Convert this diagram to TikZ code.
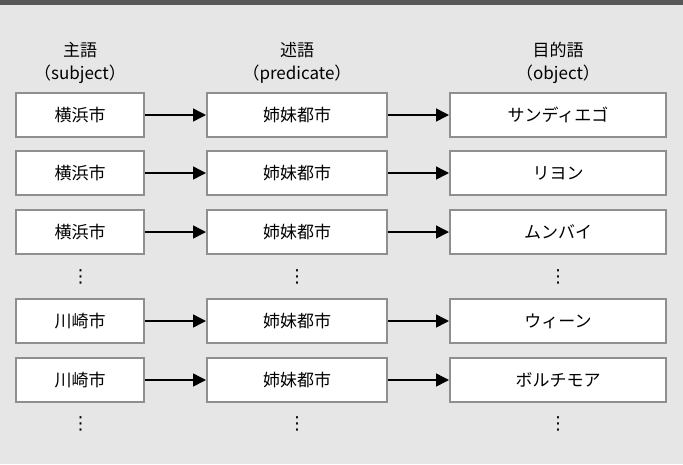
\documentclass[tikz,border=0pt]{standalone}
\usepackage{fontspec}
\setmainfont{Noto Sans CJK JP}
\newfontfamily\dejavu{DejaVu Sans}
\usetikzlibrary{arrows.meta}
\definecolor{bg}{HTML}{E6E6E6}
\definecolor{topbar}{HTML}{58575A}
\definecolor{boxline}{HTML}{8F8F8F}
\begin{document}
\begin{tikzpicture}[x=1pt,y=-1pt,
  cell/.style={draw=boxline, line width=2pt, fill=white, minimum height=44pt,
    inner sep=0pt, font=\fontsize{17}{20}\selectfont},
  cola/.style={cell, minimum width=128pt},
  colb/.style={cell, minimum width=180pt},
  colc/.style={cell, minimum width=216pt},
  link/.style={-{Triangle[length=13pt,width=13pt]}, line width=1.5pt, black},
  head/.style={align=center, font=\fontsize{17}{23}\selectfont},
  vdotsnode/.style={font=\dejavu\fontsize{18}{20}\selectfont, inner sep=0pt}]
\fill[bg] (0,0) rectangle (683,464);
\fill[topbar] (0,0) rectangle (683,5);
\useasboundingbox (0,0) rectangle (683,464);

% headers
\node[head] (h1) at (80,62.5) {主語\\（subject）};
\node[head] (h2) at (297,62.5) {述語\\（predicate）};
\node[head] (h3) at (558,62.5) {目的語\\（object）};

% rows
\node[cola] (a1) at (80,115) {横浜市};
\node[colb] (b1) at (297,115) {姉妹都市};
\node[colc] (c1) at (558,115) {サンディエゴ};

\node[cola] (a2) at (80,173) {横浜市};
\node[colb] (b2) at (297,173) {姉妹都市};
\node[colc] (c2) at (558,173) {リヨン};

\node[cola] (a3) at (80,232) {横浜市};
\node[colb] (b3) at (297,232) {姉妹都市};
\node[colc] (c3) at (558,232) {ムンバイ};

\node[vdotsnode] (d1a) at (80.5,276.5) {⋮};
\node[vdotsnode] (d1b) at (297,276.5) {⋮};
\node[vdotsnode] (d1c) at (558,276.5) {⋮};

\node[cola] (a4) at (80,321) {川崎市};
\node[colb] (b4) at (297,321) {姉妹都市};
\node[colc] (c4) at (558,321) {ウィーン};

\node[cola] (a5) at (80,380) {川崎市};
\node[colb] (b5) at (297,380) {姉妹都市};
\node[colc] (c5) at (558,380) {ボルチモア};

\node[vdotsnode] (d2a) at (80.5,424) {⋮};
\node[vdotsnode] (d2b) at (297,424) {⋮};
\node[vdotsnode] (d2c) at (558,424) {⋮};

\foreach \r in {1,2,3,4,5} {
  \draw[link] (a\r) -- (b\r);
  \draw[link] (b\r) -- (c\r);
}
\end{tikzpicture}
\end{document}
